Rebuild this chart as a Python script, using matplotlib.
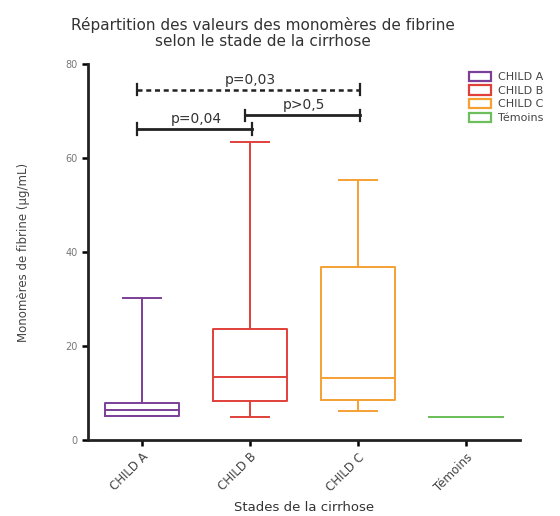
import matplotlib.pyplot as plt
from matplotlib.patches import Patch

# Données
categories = ['CHILD A', 'CHILD B', 'CHILD C', 'Témoins']
couleurs = ['#7b3f98', '#e0403a', '#f5a033', '#6dbf5b']
whisker_bas = [5.1, 4.9, 6.2, 5.0]
q1 = [5.1, 8.3, 8.5, 5.0]
mediane = [6.4, 13.4, 13.2, 5.0]
q3 = [7.9, 23.6, 36.8, 5.0]
whisker_haut = [30.2, 63.5, 55.3, 5.0]

# Comparaisons : (groupe 1, groupe 2, hauteur, texte, style)
comparaisons = [
    (0, 2, 74.5, 'p=0,03', '--'),
    (0, 1, 66.2, 'p=0,04', '-'),
    (1, 2, 69.1, 'p>0,5', '-'),
]


def main():
    plt.rcParams['font.family'] = ['DejaVu Sans']
    fig = plt.figure(figsize=(5.6, 5.16), dpi=100)
    ax = fig.add_axes([0.157, 0.147, 0.772, 0.729])

    for i, nom in enumerate(categories):
        stats = [{
            'med': mediane[i], 'q1': q1[i], 'q3': q3[i],
            'whislo': whisker_bas[i], 'whishi': whisker_haut[i],
            'fliers': [], 'label': nom,
        }]
        c = couleurs[i]
        ax.bxp(stats, positions=[i], widths=0.68, showfliers=False,
               boxprops=dict(color=c, linewidth=1.4),
               medianprops=dict(color=c, linewidth=1.4),
               whiskerprops=dict(color=c, linewidth=1.4),
               capprops=dict(color=c, linewidth=1.4),
               capwidths=0.35 if i < 3 else 0.0)

    # barres de significativité
    for g1, g2, h, txt, style in comparaisons:
        ax.plot([g1 - 0.05, g2 + 0.02], [h, h], color='#222222',
                linestyle=style, linewidth=2 if style == '-' else 1.8,
                dashes=(2, 1.5) if style == '--' else (None, None))
        for g in (g1 - 0.05, g2 + 0.02):
            ax.plot([g, g], [h - 1.2, h + 1.2], color='#222222', linewidth=1.6)
        ax.text((g1 + g2) / 2, h + 0.6, txt, ha='center', va='bottom',
                fontsize=10, color='#333333')

    ax.set_xlim(-0.5, 3.5)
    ax.set_ylim(0, 80)
    ax.set_yticks([0, 20, 40, 60, 80])
    ax.set_xticks(range(len(categories)))
    ax.set_xticklabels(categories, rotation=45, ha='right',
                       rotation_mode='anchor', fontsize=8.5, color='#444444')
    ax.tick_params(axis='y', labelsize=7, labelcolor='#777777',
                   length=4, width=1.8)
    ax.tick_params(axis='x', length=4, width=1.8)
    for s in ('top', 'right'):
        ax.spines[s].set_visible(False)
    for s in ('left', 'bottom'):
        ax.spines[s].set_linewidth(2)
        ax.spines[s].set_color('#222222')

    ax.set_ylabel('Monomères de fibrine (µg/mL)', fontsize=8.5, color='#444444',
                  labelpad=25)
    ax.set_xlabel('Stades de la cirrhose', fontsize=9.5, color='#333333',
                  labelpad=5)
    fig.suptitle('Répartition des valeurs des monomères de fibrine\n'
                 'selon le stade de la cirrhose', x=0.47, y=0.968,
                 fontsize=11, color='#333333', linespacing=1.15)

    handles = [Patch(facecolor='white', edgecolor=c, linewidth=1.6)
               for c in couleurs]
    fig.legend(handles, categories, loc='upper left',
               bbox_to_anchor=(0.82, 0.88), frameon=False, fontsize=8,
               handlelength=2.0, handleheight=0.9, labelspacing=0.28,
               handletextpad=0.6, labelcolor='#444444')

    fig.savefig('out.png', dpi=100)


if __name__ == '__main__':
    main()
